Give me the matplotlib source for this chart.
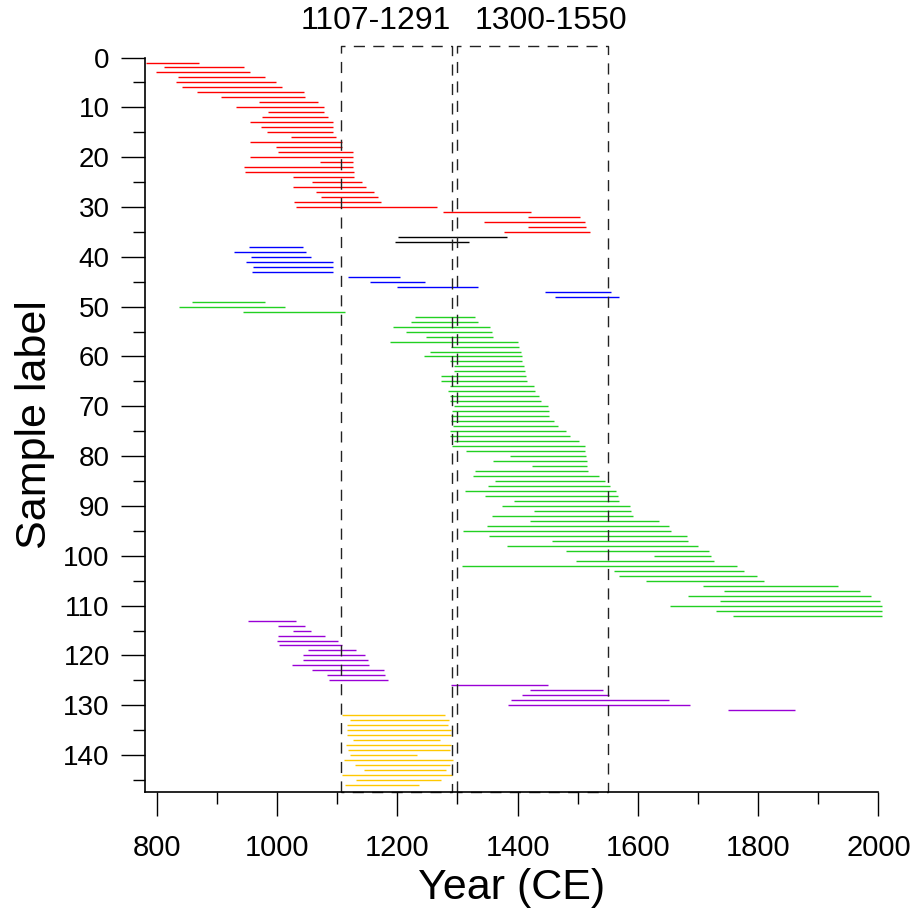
import numpy as np
import matplotlib
matplotlib.use('Agg')
import matplotlib.pyplot as plt
from matplotlib.ticker import MultipleLocator

plt.rcParams['font.family'] = ['Liberation Sans', 'DejaVu Sans']

# sample label, start year, end year for each group
red_ids = list(range(1, 36))
red_start = [783, 813, 799, 836, 833, 843, 867, 907, 970, 932, 985, 976, 956, 973, 983,
             1023, 955, 999, 1001, 956, 1071, 946, 947, 1026, 1058, 1026, 1065, 1074, 1029, 1031,
             1276, 1417, 1344, 1418, 1378]
red_end = [871, 946, 955, 981, 999, 1008, 1045, 1046, 1068, 1079, 1079, 1085, 1093, 1093, 1094,
           1099, 1109, 1109, 1127, 1126, 1126, 1127, 1128, 1129, 1141, 1148, 1161, 1168, 1173, 1266,
           1423, 1504, 1513, 1514, 1521]

black_ids = [36, 37]
black_start = [1201, 1196]
black_end = [1383, 1319]

blue_ids = list(range(38, 49))
blue_start = [953, 929, 957, 949, 961, 958, 1119, 1154, 1199, 1446, 1462]
blue_end = [1044, 1049, 1057, 1093, 1094, 1094, 1204, 1247, 1334, 1555, 1568]

green_ids = list(range(49, 113))
green_start = [859, 837, 944, 1229, 1223, 1193, 1215, 1248, 1188, 1289, 1254, 1244, 1288, 1294,
               1294, 1273, 1273, 1287, 1285, 1288, 1287, 1295, 1291, 1290, 1290, 1293, 1287, 1288,
               1294, 1291, 1315, 1388, 1360, 1424, 1330, 1326, 1362, 1351, 1312, 1346, 1395, 1375,
               1428, 1357, 1420, 1349, 1309, 1352, 1458, 1383, 1481, 1627, 1498, 1308, 1561, 1568,
               1614, 1708, 1744, 1684, 1737, 1653, 1730, 1758]
green_end = [981, 1013, 1113, 1329, 1335, 1355, 1357, 1359, 1401, 1402, 1406, 1407, 1408, 1410,
             1412, 1414, 1416, 1427, 1429, 1436, 1439, 1451, 1452, 1453, 1460, 1467, 1481, 1488,
             1503, 1512, 1513, 1514, 1515, 1515, 1517, 1535, 1545, 1554, 1563, 1567, 1569, 1587,
             1588, 1592, 1635, 1652, 1655, 1682, 1684, 1700, 1718, 1722, 1727, 1765, 1777, 1799,
             1809, 1933, 1970, 1988, 2003, 2006, 2006, 2006]

purple_ids = list(range(113, 132))
purple_start = [952, 1001, 1026, 1002, 1000, 1004, 1052, 1044, 1044, 1025, 1059, 1083, 1087,
                1290, 1420, 1407, 1390, 1385, 1750]
purple_end = [1032, 1047, 1057, 1080, 1102, 1109, 1132, 1146, 1151, 1153, 1178, 1179, 1184,
              1450, 1542, 1552, 1652, 1687, 1862]

orange_ids = list(range(132, 147))
orange_start = [1108, 1121, 1116, 1116, 1116, 1127, 1115, 1119, 1122, 1112, 1130, 1145, 1109, 1132, 1114]
orange_end = [1279, 1286, 1284, 1289, 1290, 1271, 1290, 1287, 1233, 1292, 1287, 1281, 1291, 1273, 1237]

periods = [(1107, 1291), (1300, 1550)]
period_labels = ['1107-1291', '1300-1550']

fig = plt.figure(figsize=(9.15, 9.13), dpi=100)
ax = fig.add_axes([0.158, 0.132, 0.802, 0.805])

groups = [
    (red_ids, red_start, red_end, '#ff0000'),
    (black_ids, black_start, black_end, '#000000'),
    (blue_ids, blue_start, blue_end, '#0000ff'),
    (green_ids, green_start, green_end, '#22d022'),
    (purple_ids, purple_start, purple_end, '#9900d6'),
    (orange_ids, orange_start, orange_end, '#ffc800'),
]
for ids, s, e, c in groups:
    ax.hlines(ids, s, e, colors=c, lw=1.0, clip_on=False)

ax.set_xlim(780, 2000)
ax.set_ylim(147.5, 0)

# dashed period boxes, sticking out above the axes
top = -2.3
for (a, b), lab, xt in zip(periods, period_labels, [1164, 1456]):
    ax.plot([a, a, b, b, a], [147.5, top, top, 147.5, 147.5], color='#222222', lw=1.0,
            dashes=(8, 6), clip_on=False)
    ax.text(xt, -7.3, lab, ha='center', va='center', fontsize=23)

ax.spines['top'].set_visible(False)
ax.spines['right'].set_visible(False)
ax.spines['left'].set_linewidth(1.2)
ax.spines['bottom'].set_linewidth(1.2)

ax.xaxis.set_major_locator(MultipleLocator(200))
ax.xaxis.set_minor_locator(MultipleLocator(100))
ax.yaxis.set_major_locator(MultipleLocator(10))
ax.yaxis.set_minor_locator(MultipleLocator(5))
ax.set_yticks(np.arange(0, 141, 10))
ax.tick_params(which='major', length=17, width=1.0)
ax.tick_params(which='minor', length=8.5, width=1.0)
ax.tick_params(axis='x', which='major', labelsize=21, pad=13)
ax.tick_params(axis='y', which='major', labelsize=20, pad=8)

ax.set_xlabel('Year (CE)', fontsize=31, labelpad=4)
ax.set_ylabel('Sample label', fontsize=31, labelpad=6)

plt.savefig('out.png', dpi=100)
